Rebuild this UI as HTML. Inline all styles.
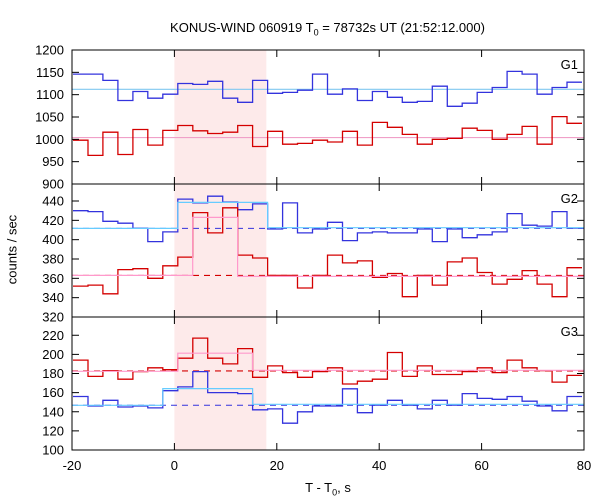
<!DOCTYPE html>
<html><head><meta charset="utf-8"><style>
body{margin:0;background:#fff;}
svg{display:block;font-family:"Liberation Sans",sans-serif;}
</style></head><body>
<svg id="c" width="600" height="500"></svg>
<script>
const binStart = 0.66, binWidth = 2.924, firstBin = -7;
const xTicks = [-20, 0, 20, 40, 60, 80];
const g1Ticks = [900, 950, 1000, 1050, 1100, 1150, 1200];
const g2Ticks = [320, 340, 360, 380, 400, 420, 440];
const g3Ticks = [100, 120, 140, 160, 180, 200, 220];
const g1Blue = [1146,1146,1132,1087,1107,1092,1101,1125,1123,1130,1092,1083,1132,1103,1105,1110,1146,1101,1113,1087,1107,1094,1083,1085,1119,1074,1081,1105,1116,1152,1146,1101,1116,1128];
const g1Red = [998,964,1016,966,1022,987,1020,1031,1019,1013,1016,1031,984,1018,989,991,998,994,1018,987,1038,1027,1011,989,1000,1002,1025,1020,1000,1011,1029,989,1051,1036];
const g2Blue = [430,429,419,417,412,398,408,442,438,445,439,431,437,411,438,407,411,418,399,407,408,407,407,411,398,411,402,405,408,427,415,414,429,412];
const g2Red = [352,353,344,369,370,360,373,382,428,407,433,384,381,363,363,350,363,384,376,378,361,365,341,363,353,377,381,366,354,359,368,354,341,371];
const g3Red = [194,177,183,174,182,186,184,196,217,196,190,206,176,188,181,176,182,186,169,172,174,202,177,188,179,179,182,186,181,194,186,183,171,178];
const g3Blue = [156,146,152,145,146,144,162,166,182,160,160,159,142,143,128,140,146,146,164,139,147,152,147,143,152,147,159,154,153,156,151,146,141,156];
const g1Means = [1112, 1004];
const g2BlueModel = [[-20, 411.7], [0.66, 438.6], [18.2, 412.4], [80, 412.4]];
const g2RedModel = [[-20, 363], [3.58, 423], [12.35, 362], [80, 362]];
const g3BlueModel = [[-20, 146.8], [-2.26, 164.2], [15.28, 147.8], [80, 147.8]];
const g3RedModel = [[-20, 182.3], [0.66, 201.2], [15.28, 183.4], [80, 183.4]];
const g2Means = [411.7, 363];
const g3Means = [146.8, 182.7];
const shade = [0, 17.95];

const NS = "http://www.w3.org/2000/svg";
const svg = document.getElementById('c');
const L = 72, R = 584;
const X = t => L + (t + 20) / 100 * (R - L);
function mk(tag, attrs, parent) {
  const e = document.createElementNS(NS, tag);
  for (const k in attrs) e.setAttribute(k, attrs[k]);
  (parent || svg).appendChild(e);
  return e;
}
const panels = [
  {name:'g1', top:50, bot:184, lo:900, hi:1200, ticks:g1Ticks},
  {name:'g2', top:184, bot:317, lo:320, hi:457.6, ticks:g2Ticks},
  {name:'g3', top:317, bot:450, lo:100, hi:239.1, ticks:g3Ticks}
];
panels.forEach(p => { p.Y = v => p.bot - (v - p.lo) / (p.hi - p.lo) * (p.bot - p.top); });

// shade
const sh = mk('rect', {x:X(shade[0]), y:50, width:X(shade[1]) - X(shade[0]), height:400, fill:'#fdeaea'});



function hist(p, vals, color, name) {
  let d = '';
  vals.forEach((v, i) => {
    let a = binStart + (firstBin + i) * binWidth, b = a + binWidth;
    a = Math.max(a, -20); b = Math.min(b, 80);
    const y = p.Y(v).toFixed(1);
    d += (i === 0 ? 'M' : 'L') + X(a).toFixed(1) + ' ' + y + ' L' + X(b).toFixed(1) + ' ' + y + ' ';
  });
  const e = mk('path', {d:d, fill:'none', stroke:color, 'stroke-width':1.3});
  
  
}
function model(p, pts, color, name) {
  let d = '';
  for (let i = 0; i < pts.length - 1; i++) {
    const y = p.Y(pts[i][1]).toFixed(1);
    d += (i === 0 ? 'M' : 'L') + X(pts[i][0]).toFixed(1) + ' ' + y + ' L' + X(pts[i+1][0]).toFixed(1) + ' ' + y + ' ';
  }
  const e = mk('path', {d:d, fill:'none', stroke:color, 'stroke-width':1.2});
  
  
}
function hline(p, v, color, dash, name) {
  const e = mk('line', {x1:L, x2:R, y1:p.Y(v), y2:p.Y(v), stroke:color, 'stroke-width':1.1});
  if (dash) e.setAttribute('stroke-dasharray', '6,5');
  
  
}
const [P1, P2, P3] = panels;
hline(P1, g1Means[0], '#80c8f0', false, 'g1-blue-mean');
hline(P1, g1Means[1], '#f0a0c8', false, 'g1-red-mean');
hist(P1, g1Blue, '#3333dd', 'g1-blue-series');
hist(P1, g1Red, '#d40000', 'g1-red-series');

hline(P2, g2Means[0], '#3333dd', true, 'g2-blue-mean');
hline(P2, g2Means[1], '#d40000', true, 'g2-red-mean');
hist(P2, g2Blue, '#3333dd', 'g2-blue-series');
hist(P2, g2Red, '#d40000', 'g2-red-series');
model(P2, g2BlueModel, '#66ccff', 'g2-blue-model');
model(P2, g2RedModel, '#ff99cc', 'g2-red-model');

hline(P3, g3Means[0], '#3333dd', true, 'g3-blue-mean');
hline(P3, g3Means[1], '#d40000', true, 'g3-red-mean');
hist(P3, g3Red, '#d40000', 'g3-red-series');
hist(P3, g3Blue, '#3333dd', 'g3-blue-series');
model(P3, g3BlueModel, '#66ccff', 'g3-blue-model');
model(P3, g3RedModel, '#ff99cc', 'g3-red-model');

// frames, ticks, labels
panels.forEach((p, pi) => {
  const f = mk('rect', {x:L, y:p.top, width:R-L, height:p.bot-p.top, fill:'none', stroke:'#000', 'stroke-width':1});
  
  
  p.ticks.forEach(v => {
    const y = p.Y(v);
    mk('line', {x1:L, x2:L+7, y1:y, y2:y, stroke:'#000'});
    mk('line', {x1:R-7, x2:R, y1:y, y2:y, stroke:'#000'});
    if (pi < 2 && v === p.ticks[0]) { /* shared boundary label */ }
    const t = mk('text', {x:L-8, y:y+4.5, 'text-anchor':'end', 'font-size':13, fill:'#000'});
    t.textContent = v;
    
    
  });
  xTicks.forEach(v => {
    mk('line', {x1:X(v), x2:X(v), y1:p.top, y2:p.top+7, stroke:'#000'});
    mk('line', {x1:X(v), x2:X(v), y1:p.bot-7, y2:p.bot, stroke:'#000'});
  });
  const lab = mk('text', {x:578, y:p.top+19, 'text-anchor':'end', 'font-size':13, fill:'#000'});
  lab.textContent = p.name.toUpperCase();
  
  
});
xTicks.forEach(v => {
  const t = mk('text', {x:X(v), y:470, 'text-anchor':'middle', 'font-size':13, fill:'#000'});
  t.textContent = v;
  
  
});
</script>
<svg width="0" height="0" style="position:absolute"></svg>
<div style="position:absolute;left:0;top:0;width:600px;height:500px;pointer-events:none;font-family:'Liberation Sans',sans-serif;color:#000;">
  <div style="position:absolute;top:20px;left:0;width:655px;text-align:center;font-size:13px;">KONUS-WIND 060919 T<sub style="font-size:9px">0</sub> = 78732s UT (21:52:12.000)</div>
  <div style="position:absolute;left:-38px;top:242px;width:100px;text-align:center;font-size:13px;transform:rotate(-90deg);">counts / sec</div>
  <div style="position:absolute;left:278px;top:480px;width:100px;text-align:center;font-size:13px;">T - T<sub style="font-size:9px">0</sub>, s</div>
</div>
</body></html>
